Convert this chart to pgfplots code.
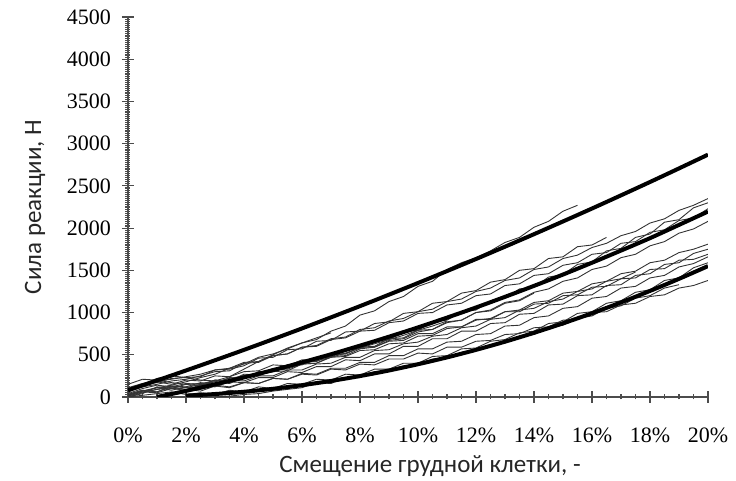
\documentclass[border=0pt]{standalone}
\usepackage{fontspec}
\setmainfont{Liberation Serif}
\newfontfamily\labelfont{Carlito}
\usepackage{pgfplots}
\usepackage{pgfplotstable}
\pgfplotsset{compat=1.18}

% measured reaction-force curves (displacement in %, force in N)
\pgfplotstableread{
x    a    b    c    d    e    f    g    h    i    j    k    l    m    n    o    p    q
0    20   60   10   110  80   40   0    90   10   0    20   30   0    100  nan  30   150
0.5  70   120  60   160  150  100  50   130  60   20   70   80   40   150  nan  80   210
1    110  150  90   190  170  140  90   180  50   40   110  60   120  220  nan  60   200
1.5  140  190  130  210  220  120  110  150  100  60   80   130  100  250  nan  120  170
2    180  210  120  240  230  160  70   200  90   30   120  110  150  230  nan  90   150
2.5  230  250  170  270  240  150  140  190  70   50   90   150  130  200  nan  140  160
3    270  300  150  320  320  200  120  250  130  30   140  130  200  190  0    180  180
3.5  340  310  230  340  330  190  180  240  110  80   120  200  190  240  10   160  220
4    390  400  220  410  370  260  170  300  170  60   170  190  270  330  30   230  250
4.5  470  410  300  420  460  250  230  310  160  120  160  250  260  420  40   260  270
5    510  490  300  490  470  320  230  380  220  100  220  250  340  500  70   300  300
5.5  570  510  380  510  560  330  300  370  210  160  210  320  340  580  90   350  310
6    640  590  380  590  570  390  290  440  280  150  270  320  420  640  110  390  390
6.5  680  610  470  600  660  400  360  440  270  210  260  390  420  700  170  430  400
7    780  690  470  680  670  470  360  510  340  200  330  400  500  760  160  470  480
7.5  840  710  560  700  770  480  440  510  340  270  320  470  510  nan  230  520  490
8    970  800  570  780  780  550  430  590  410  260  390  470  590  nan  230  580  570
8.5  1020 820  660  790  870  560  510  590  410  330  380  550  600  nan  300  630  590
9    1130 900  680  880  890  630  510  660  490  330  450  560  690  nan  300  680  670
9.5  1190 930  770  900  990  640  600  670  490  400  450  630  700  nan  370  730  690
10   1310 1010 790  990  1010 720  600  750  570  400  520  650  790  nan  380  790  770
10.5 1370 1040 890  1000 1110 730  690  750  570  480  510  720  800  nan  450  840  800
11   1510 1130 910  1090 1130 810  690  830  650  490  590  740  890  nan  460  900  880
11.5 1590 1160 1010 1110 1230 830  780  830  660  570  590  820  910  nan  530  nan  910
12   1650 1250 1030 1200 1260 910  780  920  740  580  660  840  1000 nan  550  nan  1000
12.5 1730 1290 1140 1220 1360 930  870  920  750  660  670  920  1020 nan  620  nan  1030
13   1830 1380 1170 1320 1390 1010 880  1010 840  680  740  940  1110 nan  640  nan  1120
13.5 1890 1410 1280 1340 1500 1030 980  1010 850  760  750  1030 1140 nan  720  nan  1150
14   2010 1510 1300 1440 1520 1120 990  1100 940  780  820  1050 1230 nan  740  nan  1240
14.5 2080 1540 1420 1460 1640 1140 1090 1110 960  870  830  1130 nan  nan  820  nan  1280
15   2200 1640 1450 1560 1660 1230 1100 1200 1050 890  910  1160 nan  nan  850  nan  1370
15.5 2270 1680 1570 1590 1780 1250 1200 1210 1070 990  920  1250 nan  nan  930  nan  1410
16   nan  1770 1600 1690 1800 1340 1210 1300 1170 1010 1000 1280 nan  nan  960  nan  1510
16.5 nan  1820 1730 1710 1890 1370 1320 1310 1190 1110 1010 1370 nan  nan  1050 nan  1550
17   nan  1910 1760 1820 nan  1460 1330 1400 1290 1140 1090 1400 nan  nan  1080 nan  1650
17.5 nan  1960 1890 1840 nan  1490 1440 1410 1310 1240 1110 1480 nan  nan  1170 nan  1690
18   nan  2060 1930 1950 nan  1590 1460 1510 1410 1270 1190 nan  nan  nan  1200 nan  1790
18.5 nan  2110 2070 1980 nan  1620 1570 1520 1440 1380 1210 nan  nan  nan  1290 nan  1840
19   nan  2210 2100 2090 nan  1710 1590 1620 1540 1410 1290 nan  nan  nan  1330 nan  1940
19.5 nan  2270 2240 2120 nan  1750 1700 1630 1580 1530 1320 nan  nan  nan  nan  nan  1990
20   nan  2350 2300 2230 nan  1810 1750 1690 1660 1590 1380 nan  nan  nan  nan  nan  2080
}\curves

\begin{document}
\begin{tikzpicture}
\path[use as bounding box] (-64pt,-42pt) rectangle (304pt,198.5pt);
\begin{axis}[
  at={(0,0)}, anchor=south west,
  scale only axis, width=290pt, height=190pt,
  xmin=0, xmax=20, ymin=0, ymax=4500,
  axis x line=bottom, axis y line=left,
  axis line style={-, line width=0.7pt, black!70},
  xtick={0,2,...,20}, ytick={0,500,...,4500},
  minor x tick num=3, minor y tick num=19,
  tick align=center, major tick length=6pt, minor tick length=2.5pt,
  tick style={black!70, line width=0.6pt},
  xticklabel={\pgfmathprintnumber{\tick}\%},
  /pgf/number format/assume math mode=true,
  /pgf/number format/1000 sep={},
  ticklabel style={font=\fontsize{11}{13}\selectfont},
  xticklabel style={yshift=-9pt},
  yticklabel style={xshift=-2pt},
  xlabel={Смещение грудной клетки, -},
  ylabel={Сила реакции, Н},
  every axis x label/.style={at={(axis description cs:0.5,0)}, anchor=center,
    yshift=-34.5pt, xshift=6pt, font=\labelfont\fontsize{12.5}{14}\selectfont, black!85},
  every axis y label/.style={at={(axis description cs:0,0.5)}, xshift=-46.5pt,
    rotate=90, anchor=center, font=\labelfont\fontsize{12.5}{14}\selectfont, black!85},
]
% individual test curves
\pgfplotsinvokeforeach{a,b,c,d,e,f,g,h,i,j,k,l,m,n,o,p,q}{
  \addplot[black!80, line width=0.45pt, mark=none] table[x=x, y=#1]{\curves};
}
% corridor: upper bound
\addplot[black, line width=2pt, smooth, mark=none] coordinates {
(0,80) (1,196) (2,314) (3,435) (4,558) (5,684) (6,812) (7,943) (8,1076) (9,1212) (10,1350)
(11,1491) (12,1634) (13,1780) (14,1928) (15,2079) (16,2232) (17,2388) (18,2546) (19,2707) (20,2870)};
% corridor: middle
\addplot[black, line width=2pt, smooth, mark=none] coordinates {
(1,0) (2,72) (3,150) (4,232) (5,318) (6,410) (7,506) (8,608) (9,714) (10,824)
(11,940) (12,1060) (13,1186) (14,1316) (15,1450) (16,1590) (17,1734) (18,1881) (19,2038) (20,2196)};
% corridor: lower bound
\addplot[black, line width=2pt, smooth, mark=none] coordinates {
(2,16) (3,35) (4,62) (5,97) (6,140) (7,190) (8,248) (9,314) (10,388)
(11,469) (12,558) (13,655) (14,760) (15,872) (16,992) (17,1120) (18,1256) (19,1399) (20,1550)};
\end{axis}
\end{tikzpicture}
\end{document}
